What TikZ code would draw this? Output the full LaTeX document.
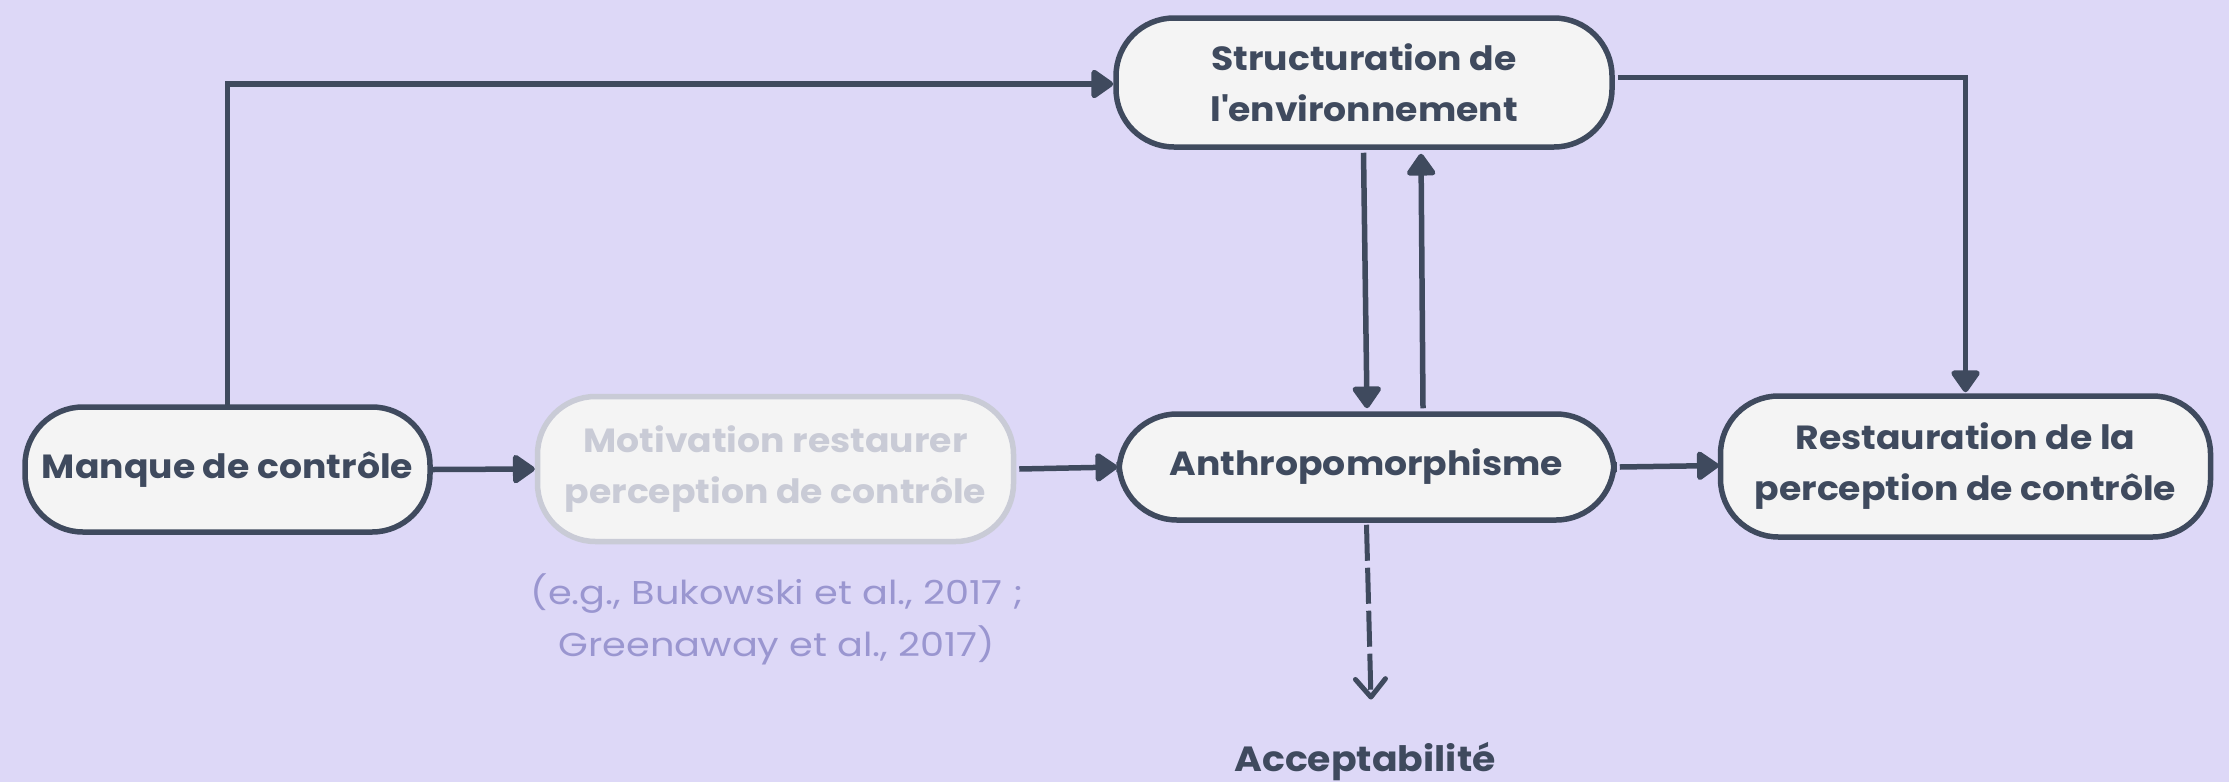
\documentclass[tikz,border=0pt]{standalone}
\usepackage{fontspec}
\setmainfont{Poppins}[FakeStretch=1.08]
\newfontfamily\citefont{Poppins}[FakeStretch=1.16]
\usetikzlibrary{arrows.meta,calc}

\definecolor{bgpurple}{HTML}{DDD8F7}
\definecolor{boxfill}{HTML}{F4F4F4}
\definecolor{ink}{HTML}{3F4A5E}
\definecolor{faded}{HTML}{C9CBD6}
\definecolor{citecol}{HTML}{9A96D0}

\tikzset{
  x=1pt, y=-1pt,
  stadium/.style={draw=ink, fill=boxfill, line width=5.5pt, rounded corners=58pt,
    align=center, text=ink, font=\fontsize{33.5}{51}\selectfont\bfseries, inner sep=0pt},
  fadedbox/.style={stadium, draw=faded, text=faded},
  link/.style={draw=ink, line width=5.5pt, -{Triangle[length=24pt,width=32pt,round]}},
  dashlink/.style={draw=ink, line width=5pt, dash pattern=on 36pt off 7pt,
    -{Straight Barb[length=18pt,width=30pt,round]}},
}

\begin{document}
\begin{tikzpicture}
  \fill[bgpurple] (0,0) rectangle (2229,782);
  \useasboundingbox (0,0) rectangle (2229,782);

  % boxes
  \node[stadium, minimum width=405pt, minimum height=125pt] (manque) at (227.5,469.5) {Manque de contrôle};
  \node[fadedbox, minimum width=476pt, minimum height=145pt] (motiv) at (775.5,469) {Motivation restaurer\\perception de contrôle};
  \node[stadium, minimum width=496pt, minimum height=129pt] (struct) at (1364,82.5) {Structuration de\\l\textquotesingle environnement};
  \node[stadium, minimum width=495pt, minimum height=106pt] (anthro) at (1366.5,467) {Anthropomorphisme};
  \node[stadium, minimum width=490pt, minimum height=141pt] (resta) at (1965.5,466.5) {Restauration de la\\perception de contrôle};

  % free labels
  \node[text=citecol, align=center, font=\citefont\fontsize{33}{52}\selectfont, inner sep=0pt] (cite) at (777,619)
    {(e.g., Bukowski et al., 2017 ;\\Greenaway et al., 2017)};
  \node[text=ink, font=\fontsize{35}{40}\selectfont\bfseries, inner sep=0pt] (accept) at (1365,762) {Acceptabilité};

  % connectors
  \draw[link] ([yshift=-1.5pt]manque.north) |- ([yshift=-1.5pt]struct.west);
  \draw[link] ([xshift=3pt,yshift=5pt]struct.east) -| ([yshift=1pt]resta.north);
  \draw[link] ([xshift=-0.5pt,yshift=-3pt]struct.south) -- ([xshift=0.5pt,yshift=3pt]anthro.north);
  \draw[link] ([xshift=56.5pt,yshift=3pt]anthro.north) -- ([xshift=57pt,yshift=-4pt]struct.south);
  \draw[link] (manque.east) -- (motiv.west);
  \draw[link] ([xshift=3pt]motiv.east) -- ([xshift=1pt]anthro.west);
  \draw[link] ([xshift=3pt]anthro.east) -- ([xshift=1pt,yshift=1pt]resta.west);
  \draw[dashlink, shorten >=1pt] ([yshift=-2pt]anthro.south) -- ([xshift=6pt,yshift=42pt]accept.north);
\end{tikzpicture}
\end{document}
